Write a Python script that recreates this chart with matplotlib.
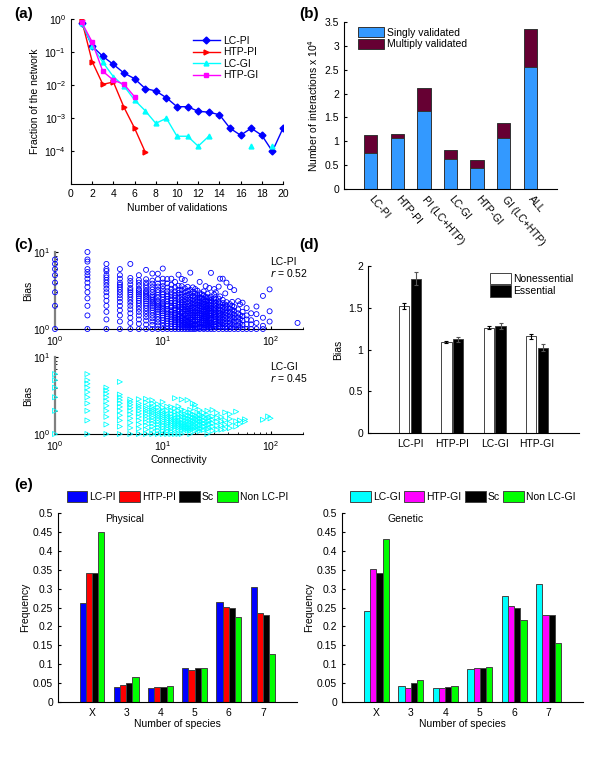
import numpy as np
import matplotlib
matplotlib.use('Agg')
import matplotlib.pyplot as plt
from matplotlib.ticker import FormatStrFormatter, NullLocator, NullFormatter, FixedLocator

plt.rcParams['font.family'] = ['Liberation Sans', 'DejaVu Sans']
plt.rcParams['font.size'] = 7.5
plt.rcParams['axes.linewidth'] = 0.8
plt.rcParams['xtick.direction'] = 'in'
plt.rcParams['ytick.direction'] = 'in'
plt.rcParams['xtick.major.size'] = 2.5
plt.rcParams['ytick.major.size'] = 2.5
plt.rcParams['xtick.minor.size'] = 1.5
plt.rcParams['ytick.minor.size'] = 1.5

# (a) fraction of the network vs number of validations
validations = list(range(1, 21))
frac_lcpi = [0.74, 0.15, 0.074, 0.042, 0.023, 0.0155, 0.0078, 0.0066, 0.0041, 0.0022,
             0.0022, 0.0016, 0.0015, 0.00126, 0.00049, 0.0003, 0.00049, 0.0003, 0.0000977, 0.00049]
frac_htppi = [0.95, 0.051, 0.0105, 0.0123, 0.0021, 0.00049, 0.0000933]
frac_lcgi = [0.78, 0.155, 0.049, 0.0178, 0.0093, 0.0035, 0.00166, 0.00069, 0.00098, 0.00028,
             0.00028, 0.00014, 0.00028, np.nan, np.nan, np.nan, 0.00014, np.nan, 0.00014, np.nan]
frac_htpgi = [0.8, 0.2, 0.026, 0.014, 0.0105, 0.0044]

# (b) number of interactions (x 10^4)
net_names = ['LC-PI', 'HTP-PI', 'PI (LC+HTP)', 'LC-GI', 'HTP-GI', 'GI (LC+HTP)', 'ALL']
singly = [0.75, 1.07, 1.64, 0.63, 0.45, 1.06, 2.55]
total = [1.13, 1.16, 2.12, 0.81, 0.61, 1.39, 3.36]

# (c) bias vs connectivity, values grouped by connectivity
lcpi_bias = {
    1: [1, 2, 3, 4, 5, 6, 7, 8],
    2: [1, 1.5, 2, 2.5, 3, 3.5, 4, 4.5, 5, 5.5, 6, 7.5, 8, 10],
    3: [1, 1.33, 1.67, 2, 2.33, 2.67, 3, 3.33, 3.67, 4, 4.33, 4.67, 5, 5.67, 6, 7],
    4: [1, 1.25, 1.5, 1.75, 2, 2.25, 2.5, 2.75, 3, 3.25, 3.5, 3.75, 4, 4.5, 5, 6],
    5: [1, 1.2, 1.4, 1.6, 1.8, 2, 2.2, 2.4, 2.6, 2.8, 3, 3.2, 3.4, 3.8, 4.2, 4.6, 7],
    6: [1, 1.17, 1.33, 1.5, 1.67, 1.83, 2, 2.17, 2.33, 2.5, 2.67, 2.83, 3, 3.17, 3.33, 3.67, 4, 4.33, 5],
    7: [1, 1.14, 1.29, 1.43, 1.57, 1.71, 1.86, 2, 2.14, 2.29, 2.43, 2.57, 2.71, 2.86, 3, 3.14,
        3.43, 3.71, 4, 4.43, 5.86],
    8: [1, 1.13, 1.25, 1.38, 1.5, 1.63, 1.75, 1.88, 2, 2.13, 2.25, 2.38, 2.5, 2.63, 2.75, 3,
        3.25, 3.5, 3.88, 4.25, 5.25],
    9: [1, 1.11, 1.22, 1.33, 1.44, 1.56, 1.67, 1.78, 1.89, 2, 2.11, 2.22, 2.33, 2.56, 2.78, 3,
        3.22, 3.56, 3.89, 4.44, 5.22],
    10: [1, 1.1, 1.2, 1.3, 1.4, 1.5, 1.6, 1.7, 1.8, 1.9, 2, 2.1, 2.2, 2.4, 2.6, 2.8, 3, 3.3,
         3.6, 4, 4.5, 6.1],
    11: [1, 1.09, 1.18, 1.27, 1.36, 1.45, 1.55, 1.64, 1.73, 1.82, 2, 2.09, 2.27, 2.45, 2.64,
         2.82, 3.09, 3.45, 3.91, 4.45],
    12: [1, 1.08, 1.17, 1.25, 1.33, 1.42, 1.5, 1.58, 1.67, 1.75, 1.92, 2, 2.17, 2.33, 2.5,
         2.75, 3, 3.33, 3.75, 4.5],
    13: [1, 1.08, 1.15, 1.23, 1.31, 1.38, 1.46, 1.54, 1.62, 1.77, 1.85, 2, 2.15, 2.31, 2.54,
         2.77, 3.08, 3.46, 4.08],
    14: [1, 1.07, 1.14, 1.21, 1.29, 1.36, 1.43, 1.5, 1.57, 1.71, 1.79, 1.93, 2.07, 2.21, 2.43,
         2.64, 2.93, 3.21, 3.64, 5.07],
    15: [1, 1.07, 1.13, 1.2, 1.27, 1.33, 1.4, 1.47, 1.6, 1.67, 1.8, 1.93, 2.07, 2.2, 2.4, 2.6,
         2.87, 3.2, 3.6, 4.47],
    16: [1, 1.06, 1.13, 1.19, 1.25, 1.31, 1.38, 1.5, 1.56, 1.69, 1.81, 1.94, 2.06, 2.25, 2.44,
         2.69, 3, 3.38, 4.31],
    17: [1, 1.06, 1.12, 1.18, 1.24, 1.29, 1.41, 1.47, 1.59, 1.71, 1.82, 1.94, 2.12, 2.29,
         2.53, 2.76, 3.12, 3.53],
    18: [1, 1.06, 1.11, 1.17, 1.22, 1.33, 1.39, 1.5, 1.61, 1.72, 1.83, 2, 2.17, 2.39, 2.61,
         2.89, 3.22, 5.39],
    19: [1, 1.05, 1.11, 1.16, 1.26, 1.32, 1.42, 1.53, 1.63, 1.74, 1.89, 2.05, 2.21, 2.42,
         2.68, 3.05, 3.47],
    20: [1, 1.05, 1.1, 1.15, 1.25, 1.3, 1.4, 1.5, 1.6, 1.7, 1.85, 2, 2.15, 2.35, 2.6, 2.9, 3.3],
    21: [1.02, 1.14, 1.24, 1.33, 1.43, 1.52, 1.62, 1.76, 1.9, 2.05, 2.24, 2.48, 2.76, 3.14],
    22: [1, 1.05, 1.09, 1.18, 1.23, 1.32, 1.41, 1.5, 1.59, 1.73, 1.86, 2, 2.18, 2.36, 2.59,
         2.91, 4.09],
    23: [1.04, 1.13, 1.22, 1.3, 1.39, 1.48, 1.57, 1.7, 1.83, 1.96, 2.13, 2.3, 2.52, 2.83],
    24: [1, 1.04, 1.13, 1.21, 1.29, 1.38, 1.46, 1.54, 1.67, 1.79, 1.92, 2.08, 2.25, 2.46,
         2.75, 3.08],
    25: [1.04, 1.12, 1.2, 1.28, 1.36, 1.44, 1.56, 1.68, 1.8, 1.96, 2.12, 2.32, 2.6, 3.6],
    26: [1, 1.08, 1.15, 1.23, 1.31, 1.42, 1.5, 1.62, 1.73, 1.85, 2, 2.15, 2.35, 2.58, 2.88],
    27: [1.04, 1.11, 1.19, 1.26, 1.37, 1.48, 1.59, 1.7, 1.85, 2.04, 2.26, 2.52, 3.41],
    28: [1, 1.07, 1.14, 1.21, 1.32, 1.39, 1.5, 1.61, 1.71, 1.86, 2, 2.18, 2.39, 2.64, 5.36],
    30: [1, 1.07, 1.13, 1.23, 1.33, 1.43, 1.53, 1.63, 1.77, 1.9, 2.07, 2.27, 2.5, 2.8, 3.3],
    31: [1.06, 1.16, 1.26, 1.35, 1.45, 1.58, 1.71, 1.84, 2.0, 2.19, 2.42, 3.0],
    33: [1, 1.09, 1.18, 1.3, 1.42, 1.55, 1.7, 1.85, 2.03, 2.24, 2.48, 3.55],
    34: [1.06, 1.15, 1.26, 1.38, 1.5, 1.62, 1.79, 1.97, 2.15, 2.65, 4.5],
    36: [1, 1.08, 1.19, 1.31, 1.44, 1.58, 1.75, 1.94, 2.17, 2.39, 4.5],
    38: [1.05, 1.16, 1.26, 1.39, 1.53, 1.68, 1.87, 2.08, 2.9],
    39: [1, 1.1, 1.21, 1.33, 1.46, 1.62, 1.79, 2, 2.23, 4.0],
    42: [1, 1.1, 1.21, 1.36, 1.5, 1.67, 1.86, 2.1, 3.5],
    44: [1.05, 1.16, 1.3, 1.43, 1.59, 1.77, 2.0, 2.25],
    46: [1, 1.11, 1.24, 1.39, 1.54, 1.72, 1.93, 3.2],
    50: [1, 1.12, 1.26, 1.42, 1.6, 1.8, 2.3],
    52: [1.06, 1.19, 1.35, 1.52, 2.1],
    55: [1, 1.13, 1.29, 1.47, 1.67, 2.2],
    60: [1, 1.15, 1.33, 1.5, 1.87],
    66: [1, 1.15, 1.3, 1.6],
    74: [1, 1.2, 1.56, 1.96],
    85: [1, 1.1, 1.4, 2.69],
    98: [1.25, 1.7, 3.27],
    178: [1.2],
}
lcgi_bias = {
    1: [1, 2, 3, 4, 5, 6],
    2: [1, 1.5, 2, 2.5, 3, 3.5, 4, 4.5, 5, 6],
    3: [1, 1.33, 1.67, 2, 2.33, 2.67, 3, 3.33, 3.67, 4],
    4: [1, 1.25, 1.5, 1.75, 2, 2.25, 2.5, 2.75, 3, 3.25, 4.75],
    5: [1, 1.2, 1.4, 1.6, 1.8, 2, 2.2, 2.4, 2.6, 2.8],
    6: [1, 1.17, 1.33, 1.5, 1.67, 1.83, 2, 2.17, 2.33, 2.5, 2.83],
    7: [1, 1.14, 1.29, 1.43, 1.57, 1.71, 1.86, 2, 2.14, 2.29, 2.57, 2.86],
    8: [1, 1.13, 1.25, 1.38, 1.5, 1.63, 1.75, 1.88, 2, 2.13, 2.25, 2.5, 2.75],
    9: [1, 1.11, 1.22, 1.33, 1.44, 1.56, 1.67, 1.78, 1.89, 2, 2.22, 2.44],
    10: [1, 1.1, 1.2, 1.3, 1.4, 1.5, 1.6, 1.7, 1.8, 1.9, 2, 2.2, 2.6],
    11: [1, 1.09, 1.18, 1.27, 1.36, 1.45, 1.55, 1.64, 1.73, 1.82, 2, 2.27],
    12: [1, 1.08, 1.17, 1.25, 1.33, 1.42, 1.5, 1.58, 1.67, 1.83, 2, 2.25],
    13: [1, 1.15, 1.23, 1.31, 1.38, 1.46, 1.54, 1.62, 1.77, 1.92, 2.15, 2.92],
    14: [1, 1.14, 1.21, 1.29, 1.36, 1.43, 1.5, 1.64, 1.79, 2, 2.29],
    15: [1, 1.13, 1.2, 1.27, 1.33, 1.4, 1.53, 1.67, 1.8, 2.07, 2.8],
    16: [1.13, 1.19, 1.25, 1.31, 1.38, 1.5, 1.63, 1.81, 2],
    17: [1.12, 1.18, 1.24, 1.35, 1.47, 1.59, 1.76, 2.76],
    18: [1, 1.11, 1.17, 1.22, 1.33, 1.44, 1.56, 1.72, 1.89, 2.06],
    19: [1.16, 1.26, 1.37, 1.47, 1.63, 1.79, 2.5],
    20: [1.1, 1.2, 1.3, 1.45, 1.6, 1.75, 2.2, 2.4],
    21: [1.14, 1.24, 1.38, 1.52, 1.67, 1.9],
    22: [1.09, 1.18, 1.32, 1.45, 1.59, 1.77, 2.05],
    23: [1.17, 1.3, 1.43, 1.57, 1.74],
    24: [1.13, 1.25, 1.38, 1.5, 1.67, 1.88],
    26: [1, 1.15, 1.27, 1.42, 1.58, 1.77, 2.0],
    27: [1.19, 1.33, 1.48, 1.63],
    29: [1.1, 1.24, 1.38, 1.52, 1.69, 2.05],
    32: [1.13, 1.28, 1.44, 1.63, 1.88],
    35: [1.14, 1.29, 1.46, 1.66],
    38: [1.16, 1.32, 1.5, 1.9],
    42: [1.19, 1.36, 1.57, 1.81],
    48: [1.25, 1.46, 1.95],
    52: [1.35, 1.5],
    58: [1.45, 1.55],
    85: [1.53],
    95: [1.69],
    100: [1.6],
}

# (d) bias for nonessential / essential genes
bias_nets = ['LC-PI', 'HTP-PI', 'LC-GI', 'HTP-GI']
bias_noness = [1.52, 1.09, 1.26, 1.16]
err_noness = [0.04, 0.01, 0.02, 0.03]
bias_ess = [1.85, 1.12, 1.28, 1.02]
err_ess = [0.08, 0.03, 0.04, 0.04]

# (e) frequency vs number of species
species = ['X', '3', '4', '5', '6', '7']
phys_names = ['LC-PI', 'HTP-PI', 'Sc', 'Non LC-PI']
phys_freq = [[0.262, 0.040, 0.038, 0.089, 0.264, 0.305],
             [0.342, 0.045, 0.039, 0.085, 0.252, 0.236],
             [0.342, 0.051, 0.041, 0.090, 0.248, 0.229],
             [0.450, 0.065, 0.042, 0.090, 0.226, 0.126]]
gen_names = ['LC-GI', 'HTP-GI', 'Sc', 'Non LC-GI']
gen_freq = [[0.242, 0.043, 0.038, 0.086, 0.281, 0.311],
            [0.352, 0.036, 0.038, 0.090, 0.255, 0.229],
            [0.342, 0.051, 0.041, 0.090, 0.248, 0.229],
            [0.431, 0.058, 0.043, 0.093, 0.218, 0.156]]

W, H = 600, 764
fig = plt.figure(figsize=(W / 100, H / 100), dpi=100)


def box(l, t, r, b):
    return [l / W, 1 - b / H, (r - l) / W, (b - t) / H]


def matlab_axes(ax):
    ax.spines['top'].set_visible(False)
    ax.spines['right'].set_visible(False)


# ---- (a)
ax = fig.add_axes(box(71, 19, 283, 184))
matlab_axes(ax)
ax.semilogy(validations, frac_lcpi, '-D', color='#0000ff', ms=3.5, lw=1, label='LC-PI')
ax.semilogy(validations[:len(frac_htppi)], frac_htppi, '->', color='#ff0000', ms=3.5, lw=1, label='HTP-PI')
ax.semilogy(validations, frac_lcgi, '-^', color='#00ffff', ms=3.5, lw=1, label='LC-GI')
ax.semilogy(validations[:len(frac_htpgi)], frac_htpgi, '-s', color='#ff00ff', ms=3, lw=1, label='HTP-GI')
ax.set_xlim(0, 20)
ax.set_ylim(1e-5, 1)
ax.set_xticks(range(0, 21, 2))
ax.yaxis.set_major_locator(FixedLocator([1e-4, 1e-3, 1e-2, 1e-1, 1]))
ax.yaxis.set_minor_locator(NullLocator())
ax.set_xlabel('Number of validations', labelpad=3)
ax.set_ylabel('Fraction of the network', labelpad=3)
ax.legend(loc='upper left', bbox_to_anchor=(0.55, 0.93), frameon=False, handlelength=2.6,
          labelspacing=0.15, borderpad=0, handletextpad=0.3, fontsize=7.5)

# ---- (b)
ax = fig.add_axes(box(344, 22, 557, 189))
matlab_axes(ax)
pos = np.arange(1, len(net_names) + 1)
multi = np.array(total) - np.array(singly)
ax.bar(pos, singly, 0.5, color='#3399ff', edgecolor='#333333', lw=0.7, label='Singly validated')
ax.bar(pos, multi, 0.5, bottom=singly, color='#660033', edgecolor='#333333', lw=0.7,
       label='Multiply validated')
ax.set_xlim(0, 8)
ax.set_ylim(0, 3.5)
ax.set_yticks(np.arange(0, 3.51, 0.5))
ax.yaxis.set_major_formatter(FormatStrFormatter('%g'))
ax.set_xticks(pos)
ax.set_xticklabels(net_names, rotation=-50, ha='left', va='center', rotation_mode='anchor')
ax.tick_params(axis='x', length=0, pad=6)
ax.set_ylabel('Number of interactions x 10$^4$', labelpad=3)
ax.legend(loc='upper left', bbox_to_anchor=(0.04, 1.0), frameon=False, handlelength=2.5,
          handleheight=1.1, labelspacing=0.1, borderpad=0, handletextpad=0.3, fontsize=7.5)

# ---- (c)
ax_pi = fig.add_axes(box(55, 252, 303, 329))
ax_gi = fig.add_axes(box(55, 357, 303, 434))
for ax, data, mk, col, name, r in [(ax_pi, lcpi_bias, 'o', '#0000ff', 'LC-PI', '0.52'),
                                   (ax_gi, lcgi_bias, '>', '#00ffff', 'LC-GI', '0.45')]:
    matlab_axes(ax)
    xs, ys = [], []
    for conn, vals in data.items():
        xs += [conn] * len(vals)
        ys += vals
    ax.scatter(xs, ys, s=13, marker=mk, facecolors='none', edgecolors=col, linewidths=0.6,
               clip_on=False, zorder=3)
    ax.set_xscale('log')
    ax.set_yscale('log')
    ax.set_xlim(1, 200)
    ax.set_ylim(1, 10)
    ax.spines['left'].set_color('0.5')
    ax.spines['left'].set_linewidth(1.6)
    ax.xaxis.set_minor_formatter(NullFormatter())
    ax.yaxis.set_minor_formatter(NullFormatter())
    ax.set_ylabel('Bias', labelpad=0)
    ax.text(0.867, 0.87, name, transform=ax.transAxes, ha='left', va='center')
    ax.text(0.867, 0.73, '$r$ = ' + r, transform=ax.transAxes, ha='left', va='center')
ax_gi.set_xlabel('Connectivity', labelpad=2)

# ---- (d)
ax = fig.add_axes(box(368, 266, 579, 433))
matlab_axes(ax)
pos = np.arange(1, len(bias_nets) + 1)
ax.bar(pos - 0.14, bias_noness, 0.24, yerr=err_noness, color='white', edgecolor='#444444', lw=0.7,
       error_kw=dict(lw=0.8, capsize=1.5, capthick=0.8), label='Nonessential')
ax.bar(pos + 0.14, bias_ess, 0.24, yerr=err_ess, color='black', edgecolor='#444444', lw=0.7,
       error_kw=dict(lw=0.8, capsize=1.5, capthick=0.8, ecolor='#555555'), label='Essential')
ax.set_xlim(0, 5)
ax.set_ylim(0, 2)
ax.set_yticks(np.arange(0, 2.01, 0.5))
ax.yaxis.set_major_formatter(FormatStrFormatter('%g'))
ax.set_xticks(pos)
ax.set_xticklabels(bias_nets)
ax.tick_params(axis='x', length=0, pad=4)
ax.set_ylabel('Bias', labelpad=4)
ax.legend(loc='upper left', bbox_to_anchor=(0.555, 0.99), frameon=False, handlelength=2.0,
          handleheight=1.3, labelspacing=0.1, borderpad=0, handletextpad=0.2, fontsize=7.5)

# ---- (e)
phys_cols = ['#0000ff', '#ff0000', '#000000', '#00ff00']
gen_cols = ['#00ffff', '#ff00ff', '#000000', '#00ff00']
for rect, freq, names, cols, title, tx in [((58, 513, 297, 702), phys_freq, phys_names, phys_cols, 'Physical', 1.94),
                                           ((342, 513, 583, 702), gen_freq, gen_names, gen_cols, 'Genetic', 1.84)]:
    ax = fig.add_axes(box(*rect))
    matlab_axes(ax)
    pos = np.arange(1, len(species) + 1)
    bw = 0.18
    for k in range(4):
        ax.bar(pos + (k - 1.5) * bw, freq[k], bw, color=cols[k], edgecolor='#444444', lw=0.7,
               label=names[k])
    ax.set_xlim(0, 7)
    ax.set_ylim(0, 0.5)
    ax.set_yticks(np.arange(0, 0.501, 0.05))
    ax.yaxis.set_major_formatter(FormatStrFormatter('%g'))
    ax.set_xticks(pos)
    ax.set_xticklabels(species)
    ax.tick_params(axis='x', length=0, pad=4)
    ax.set_xlabel('Number of species', labelpad=1)
    ax.set_ylabel('Frequency', labelpad=2)
    ax.text(tx, 0.483, title, ha='center', va='center')
    ax.legend(loc='lower center', bbox_to_anchor=(0.5, 1.03), ncol=4, frameon=False,
              handlelength=2.0, handleheight=1.3, columnspacing=0.3, handletextpad=0.2,
              borderpad=0, fontsize=7.5)

# panel letters
for lab, x, y in [('(a)', 14, 14), ('(b)', 299, 14), ('(c)', 14, 245), ('(d)', 299, 245), ('(e)', 14, 485)]:
    fig.text(x / W, 1 - y / H, lab, fontsize=11, fontweight='bold', va='center', ha='left')

plt.savefig('out.png', dpi=100)
